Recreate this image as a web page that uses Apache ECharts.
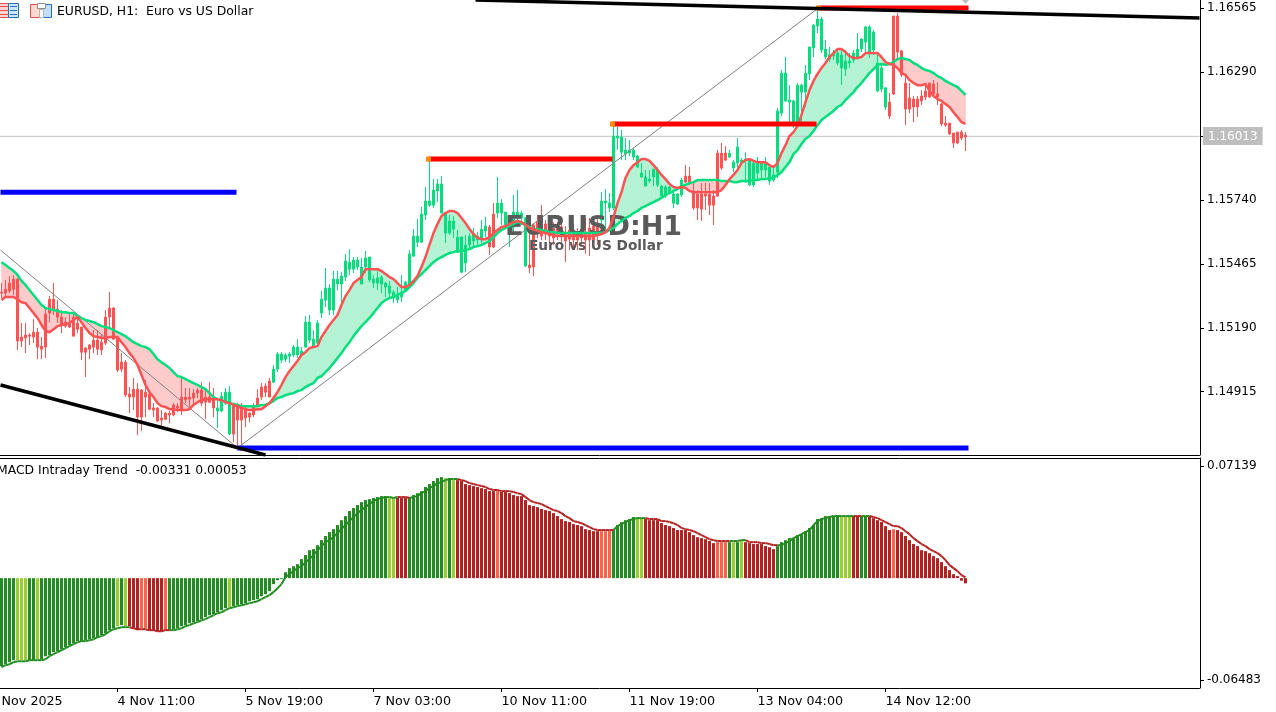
<!DOCTYPE html>
<html><head><meta charset="utf-8">
<style>html,body{margin:0;padding:0;background:#fff;overflow:hidden}#c{width:1276px;height:712px}</style>
<script src="https://cdn.jsdelivr.net/npm/echarts@6/dist/echarts.min.js"></script>
</head><body><div id="c"></div>
<script>
// Prices are stored in points: 15343 means 1.15343. One bar per hour, oldest first.
const bodyTop=[15343,15356,15382,15399,15399,15150,15159,15159,15171,15171,
15111,15249,15313,15313,15270,15236,15214,15210,15236,15210,
15193,15103,15116,15137,15137,15128,15236,15275,15275,15146,
15042,15042,14905,14926,14926,14922,14913,14905,14845,14845,
14802,14823,14823,14858,14853,14892,14892,14892,14909,14922,
14922,14892,14892,14883,14845,14896,14913,14913,14853,14849,
14858,14840,14823,14853,14888,14935,14939,14961,15012,15077,
15077,15073,15077,15107,15107,15090,15214,15214,15141,15210,
15313,15361,15361,15399,15399,15412,15477,15472,15481,15481,
15451,15490,15494,15399,15404,15408,15382,15369,15343,15335,
15343,15386,15507,15584,15584,15679,15735,15735,15782,15808,
15808,15683,15649,15649,15580,15580,15546,15584,15597,15584,
15614,15627,15623,15679,15726,15726,15687,15640,15687,15687,
15683,15662,15460,15632,15644,15627,15636,15627,15619,15632,
15623,15601,15610,15606,15601,15610,15601,15619,15627,15636,
15735,15735,15726,16014,16014,16010,15954,15954,15954,15928,
15855,15838,15829,15872,15872,15799,15795,15795,15765,15765,
15825,15842,15842,15778,15765,15765,15765,15765,15756,15941,
15941,15941,15941,15902,15967,15911,15915,15911,15898,15898,
15898,15898,15881,15847,16122,16285,16285,16169,16165,16233,
16233,16285,16397,16491,16517,16517,16388,16363,16371,16371,
16363,16337,16337,16371,16388,16431,16483,16483,16461,16328,
16307,16221,16160,16530,16530,16380,16242,16178,16173,16173,
16186,16208,16242,16238,16195,16152,16070,16070,16027,16031,16031,16018];
const bodyBottom=[15339,15339,15348,15356,15133,15133,15146,15154,15150,15107,
15098,15107,15253,15270,15236,15202,15197,15193,15154,15184,
15085,15085,15098,15107,15098,15094,15124,15236,15141,15008,
15012,14901,14892,14892,14806,14806,14892,14840,14836,14789,
14793,14797,14815,14815,14845,14836,14879,14883,14888,14909,
14866,14870,14870,14845,14832,14832,14866,14733,14733,14793,
14793,14802,14806,14815,14853,14892,14913,14892,14956,15012,
15051,15055,15068,15073,15073,15073,15107,15137,15107,15124,
15253,15309,15266,15266,15378,15378,15408,15442,15442,15451,
15378,15451,15395,15382,15382,15378,15365,15339,15318,15309,
15322,15352,15378,15498,15558,15558,15675,15717,15717,15778,
15683,15597,15597,15614,15515,15429,15468,15546,15563,15567,
15567,15606,15537,15537,15683,15683,15632,15619,15623,15662,
15662,15455,15447,15451,15601,15584,15593,15584,15576,15601,
15584,15563,15571,15567,15567,15576,15567,15567,15567,15589,
15653,15726,15705,15705,16006,15945,15937,15941,15924,15881,
15838,15799,15821,15838,15804,15756,15756,15773,15726,15722,
15761,15816,15812,15705,15705,15700,15756,15717,15717,15756,
15877,15911,15924,15877,15898,15902,15907,15804,15804,15855,
15868,15868,15821,15825,15859,16113,16165,16160,16066,16070,
16203,16203,16281,16393,16487,16384,16354,16345,16358,16328,
16307,16302,16328,16341,16354,16388,16418,16375,16384,16208,
16216,16139,16100,16195,16375,16277,16130,16130,16139,16139,
16165,16182,16182,16195,16182,16066,16061,16023,15984,15984,16006,16010];
const high=[15382,15395,15412,15416,15404,15210,15210,15167,15227,15189,
15150,15275,15326,15382,15309,15266,15236,15253,15253,15227,
15193,15107,15120,15180,15180,15163,15266,15343,15279,15150,
15081,15051,14935,14974,14952,14926,14965,14913,14866,14849,
14836,14827,14832,14866,14866,14974,14931,14931,14926,14931,
14956,14931,14956,14931,14879,14913,14931,14939,14866,14866,
14866,14858,14827,14866,14926,14952,14952,14974,15030,15085,
15085,15081,15085,15116,15141,15107,15240,15245,15180,15223,
15348,15447,15378,15434,15434,15429,15507,15528,15494,15494,
15490,15520,15494,15416,15434,15416,15386,15391,15352,15365,
15416,15391,15524,15614,15657,15709,15795,15911,15829,15829,
15842,15683,15675,15670,15610,15584,15589,15597,15619,15601,
15653,15666,15632,15726,15838,15743,15687,15666,15761,15782,
15692,15666,15619,15640,15675,15717,15653,15644,15644,15644,
15662,15627,15627,15636,15619,15653,15662,15662,15662,15662,
15773,15786,15769,16066,16053,16040,16006,15997,15963,15933,
15898,15868,15868,15872,15881,15804,15804,15799,15782,15769,
15834,15889,15881,15812,15782,15812,15812,15812,15782,15954,
15984,15971,15954,15911,16006,15920,15945,15915,15902,15924,
15902,15924,15881,15881,16135,16298,16354,16233,16169,16242,
16238,16319,16397,16496,16565,16526,16427,16397,16384,16388,
16393,16384,16371,16384,16457,16436,16487,16491,16470,16371,
16319,16225,16199,16530,16543,16384,16277,16242,16186,16186,
16212,16242,16242,16255,16246,16156,16100,16070,16027,16031,16040,16031];
const low=[15318,15322,15339,15331,15094,15107,15081,15116,15124,15055,
15055,15060,15214,15245,15210,15167,15189,15189,15154,15167,
15051,14978,15055,15081,15073,15073,15116,15189,15137,15000,
15000,14892,14823,14836,14729,14746,14806,14836,14806,14784,
14763,14793,14780,14810,14827,14815,14866,14849,14858,14888,
14853,14797,14866,14806,14759,14827,14858,14729,14698,14677,
14685,14763,14784,14806,14849,14879,14892,14892,14952,15000,
15038,15042,15038,15064,15060,15064,15103,15124,15103,15107,
15232,15279,15245,15245,15352,15296,15391,15416,15425,15438,
15378,15425,15386,15361,15352,15339,15322,15322,15296,15296,
15300,15343,15374,15494,15537,15558,15653,15709,15705,15730,
15683,15554,15589,15576,15511,15425,15429,15528,15537,15546,
15554,15580,15503,15533,15662,15632,15623,15537,15597,15623,
15632,15451,15425,15412,15576,15567,15567,15554,15546,15567,
15537,15472,15524,15528,15524,15541,15507,15498,15541,15546,
15632,15606,15687,15696,15954,15911,15911,15928,15911,15877,
15834,15799,15812,15799,15795,15748,15748,15769,15705,15717,
15752,15812,15804,15696,15653,15649,15696,15675,15632,15752,
15868,15907,15920,15859,15868,15898,15812,15799,15795,15829,
15834,15838,15804,15816,15834,16100,16160,16074,16049,16066,
16066,16139,16255,16354,16457,16371,16345,16332,16341,16319,
16234,16272,16307,16328,16354,16375,16371,16350,16363,16203,
16203,16126,16087,16191,16341,16268,16061,16113,16074,16096,
16148,16169,16178,16182,16148,16057,16053,16019,15963,15980,15997,15950];
// Bar trend: [first bar, last bar] of every rising stretch; all other bars are falling.
const risingRuns=[[54,57],[68,121],[124,131],[150,170],[182,221]];
// Fast and slow averages that bound the cloud.
const fastMA=[15309,15322,15322,15322,15313,15300,15296,15275,15253,15232,
15202,15176,15171,15184,15197,15202,15206,15210,15223,15236,
15214,15189,15167,15154,15150,15146,15146,15150,15150,15150,
15128,15107,15081,15060,15030,14987,14944,14913,14892,14866,
14853,14849,14840,14840,14836,14836,14836,14840,14858,14870,
14879,14883,14883,14883,14883,14879,14870,14866,14858,14853,
14845,14840,14836,14836,14840,14840,14853,14866,14888,14913,
14944,14978,15004,15025,15047,15073,15085,15103,15107,15111,
15150,15176,15202,15223,15245,15288,15326,15352,15382,15395,
15408,15442,15442,15442,15442,15434,15421,15408,15399,15382,
15365,15365,15374,15391,15412,15451,15494,15546,15597,15636,
15670,15683,15692,15692,15683,15662,15640,15614,15593,15576,
15571,15571,15580,15597,15610,15623,15627,15636,15644,15649,
15644,15632,15619,15614,15606,15601,15597,15593,15589,15584,
15584,15584,15584,15584,15584,15584,15584,15584,15584,15589,
15593,15601,15619,15666,15726,15773,15834,15868,15889,15902,
15915,15915,15907,15889,15868,15847,15829,15808,15795,15791,
15795,15791,15778,15773,15773,15773,15773,15773,15773,15773,
15782,15804,15829,15847,15868,15898,15911,15915,15907,15902,
15902,15902,15889,15881,15898,15941,15975,16014,16031,16057,
16105,16160,16212,16251,16281,16307,16328,16354,16371,16388,
16388,16375,16358,16350,16350,16354,16371,16371,16371,16371,
16354,16332,16324,16320,16307,16285,16277,16255,16242,16233,
16233,16238,16208,16186,16173,16165,16152,16139,16117,16096,16074,16066];
const slowMA=[15472,15460,15447,15434,15417,15391,15374,15352,15331,15309,
15288,15275,15270,15266,15262,15257,15257,15253,15253,15240,
15232,15223,15219,15214,15206,15197,15193,15189,15180,15171,
15163,15154,15141,15128,15120,15111,15107,15098,15077,15055,
15042,15030,15017,14999,14982,14978,14969,14961,14952,14944,
14935,14926,14909,14892,14883,14875,14875,14866,14862,14858,
14853,14853,14853,14853,14853,14858,14858,14866,14875,14888,
14892,14900,14905,14909,14918,14922,14935,14944,14952,14974,
14982,14999,15017,15038,15060,15081,15107,15128,15154,15176,
15197,15214,15232,15253,15275,15296,15309,15318,15322,15331,
15339,15348,15365,15382,15404,15421,15438,15455,15472,15485,
15494,15503,15511,15515,15520,15520,15524,15528,15537,15541,
15546,15554,15563,15580,15597,15610,15619,15627,15636,15644,
15640,15632,15623,15614,15614,15610,15606,15601,15601,15597,
15597,15597,15597,15597,15597,15597,15597,15597,15597,15597,
15597,15601,15610,15619,15636,15649,15662,15670,15683,15692,
15705,15713,15722,15730,15739,15748,15761,15769,15778,15786,
15799,15804,15812,15816,15825,15825,15825,15825,15825,15825,
15821,15821,15821,15816,15816,15821,15821,15821,15825,15825,
15829,15829,15834,15834,15847,15859,15881,15902,15937,15954,
15980,16001,16014,16036,16061,16083,16096,16109,16122,16139,
16148,16169,16186,16203,16225,16242,16264,16285,16302,16320,
16324,16320,16324,16332,16345,16350,16345,16341,16328,16320,
16307,16298,16294,16285,16272,16264,16251,16242,16233,16225,16208,16191];
// MACD histogram and signal, in units of 0.0001.
const histogram=[-561,-548,-535,-522,-522,-522,-522,-522,-522,-516,-516,
-497,-491,-471,-465,-452,-440,-427,-414,-401,-401,
-395,-389,-382,-376,-363,-350,-331,-319,-306,-299,
-306,-306,-319,-331,-319,-319,-331,-331,-338,-338,
-331,-331,-325,-319,-306,-299,-287,-280,-274,-261,
-248,-236,-229,-217,-204,-191,-185,-178,-172,-166,
-159,-147,-140,-134,-115,-102,-83,-38,-13,-6,
38,64,76,89,121,147,178,185,210,242,268,293,
312,338,369,395,427,446,465,484,497,503,
510,516,522,522,510,510,510,510,510,516,
529,541,554,580,599,618,637,643,637,637,
624,624,618,599,592,586,580,573,567,554,
554,554,548,548,541,529,522,522,497,465,
459,452,440,433,427,414,395,376,363,357,
344,338,331,312,306,299,299,299,299,299,
306,338,357,369,376,389,389,382,376,369,369,369,
350,338,331,319,306,306,306,293,274,261,
255,248,236,223,229,229,229,229,229,229,
236,229,223,217,217,217,204,197,185,204,
229,242,255,255,274,280,299,319,338,376,
382,395,395,395,401,389,389,395,395,395,
395,395,395,382,369,357,331,306,312,306,
293,268,242,217,204,178,172,159,140,127,
102,76,51,25,13,-16,-33];
const signal=[-567,-554,-548,-535,-529,-529,-529,-522,-522,-522,-522,
-516,-497,-484,-471,-459,-446,-433,-420,-408,-401,
-401,-395,-389,-376,-369,-357,-338,-325,-319,-312,
-312,-312,-319,-325,-325,-325,-331,-331,-338,-338,
-331,-331,-331,-325,-319,-306,-299,-287,-280,-268,
-261,-248,-236,-223,-217,-204,-191,-185,-178,-172,
-166,-159,-153,-147,-134,-121,-108,-89,-64,-38,
6,25,45,64,76,102,121,147,178,204,229,242,
261,287,312,338,363,389,414,433,452,471,
491,503,510,516,516,510,516,516,516,510,
516,522,541,554,573,586,605,611,624,631,
631,631,624,618,605,599,592,586,580,567,
561,561,554,554,554,548,541,535,516,497,
484,478,471,459,446,433,427,414,395,382,
363,357,350,338,325,312,306,306,306,306,
306,331,344,357,369,376,382,382,382,376,376,376,
363,363,357,350,338,319,312,306,299,287,
274,261,248,242,236,236,236,236,236,236,
242,242,229,229,229,223,223,217,210,210,
210,223,236,255,268,280,293,306,338,363,
376,382,389,395,395,395,395,395,395,395,
395,395,395,389,382,369,357,344,331,331,
319,299,280,255,236,217,204,185,172,159,
140,115,83,64,45,19,5];
// Histogram state: [first bar, last bar, state]; bars outside a run are strong green.
const histRuns=[[4,6,'y'],[9,9,'y'],[29,29,'y'],[31,31,'y'],[32,34,'r'],[35,36,'o'],[37,40,'r'],[41,41,'o'],
[57,57,'y'],[97,98,'y'],[99,101,'r'],[111,111,'y'],[113,113,'y'],[114,123,'r'],[124,124,'o'],[125,149,'r'],
[150,152,'o'],[159,160,'y'],[161,178,'r'],[179,181,'o'],[183,183,'y'],[185,185,'y'],[186,193,'r'],
[210,212,'y'],[213,214,'r'],[217,222,'r'],[223,223,'o'],[224,241,'r']];
// Axis ticks and labels.
const timeLabels=['3 Nov 2025','4 Nov 11:00','5 Nov 19:00','7 Nov 03:00','10 Nov 11:00','11 Nov 19:00','13 Nov 04:00','14 Nov 12:00'];
const priceTicks=[1.16565,1.16290,1.15740,1.15465,1.15190,1.14915];
const lastPrice=1.16013;
const macdTicks=[0.07139,-0.06483];
// Chart objects, as [bar number, price in points].
const blackLines=[[[-0.25,14944],[66,14643]],[[118.5,16599],[299.5,16522]]];
const zigzag=[[-0.25,15524],[59,14673],[204.25,16565]];
const blueLevels=[[[-0.25,15773],[58.75,15773]],[[59,14673],[241.75,14673]]];
const redLevels=[[[106.75,15915],[152.75,15915]],[[152.75,16066],[203.75,16066]],[[204.25,16565],[241.75,16565]]];
const levelStarts=[[106.75,15915],[152.75,16066],[204.25,16565]];

const price=v=>1+v/1e5, LEAD=3, COUNT=303;
const GREEN='#00DE7E',RED='#FF5252',MINT='#B3F3D4',PINK='#FFCACA';
const HIST={g:'#228B22',y:'#9ACD32',r:'#B22222',o:'#FF6347'};
const rising=i=>risingRuns.some(r=>i>=r[0]&&i<=r[1]);
const histState=i=>{const r=histRuns.find(r=>i>=r[0]&&i<=r[1]);return r?r[2]:'g';};
const cats=[];for(let j=0;j<COUNT;j++){cats.push(j%32===0&&timeLabels[j/32]?timeLabels[j/32]:'');}

const candles=bodyTop.map((t,i)=>{const c=rising(i)?GREEN:RED;return {value:[i+LEAD,price(bodyBottom[i]),price(t),price(low[i]),price(high[i])],itemStyle:{color:c,color0:c,borderColor:c,borderColor0:c,borderWidth:1}};});
const cloud=[];for(let i=0;i<fastMA.length-1;i++){cloud.push([i+LEAD,price(fastMA[i]),price(slowMA[i]),price(fastMA[i+1]),price(slowMA[i+1])]);}
const sigSeg=[];for(let i=0;i<signal.length-1;i++){sigSeg.push([i+LEAD,signal[i]/1e4,signal[i+1]/1e4,'gy'.includes(histState(i))?0:1]);}
const lineData=a=>a.map((v,i)=>[i+LEAD,price(v)]);
const pts=a=>a.map(p=>[p[0],price(p[1])]);
const overlay=(data,color,width,z)=>({type:'line',xAxisIndex:1,yAxisIndex:0,data:pts(data),symbol:'none',silent:true,z,lineStyle:{color,width}});
const none={show:false};
const vx=(grid,extra)=>Object.assign({type:'value',gridIndex:grid,min:-3.5,max:299.5,axisLabel:none,axisTick:none,splitLine:none},extra);
const fontFamily='"DejaVu Sans"';

const T=(text,x,y,opt)=>({type:'text',x,y,z:opt.z||10,style:Object.assign({text,fill:'#000',font:'12.4px "DejaVu Sans"',textVerticalAlign:'middle'},opt.style)});
const R=(x,y,w,h,fill,stroke)=>({type:'rect',z:10,shape:{x,y,width:w,height:h},style:{fill,stroke:stroke||null,lineWidth:1}});

const option={
 animation:false,backgroundColor:'#fff',
 grid:[{left:-12.5,top:0,width:1212,height:455,outerBoundsMode:'none',containLabel:false},{left:-12.5,top:458,width:1212,height:230,outerBoundsMode:'none',containLabel:false}],
 xAxis:[
  {type:'category',gridIndex:0,data:cats,axisLine:{onZero:false,lineStyle:{color:'#000',width:1}},axisTick:none,axisLabel:none,splitLine:none},
  vx(0,{show:false}),
  {type:'category',gridIndex:1,data:cats,position:'bottom',
   axisLine:{onZero:false,lineStyle:{color:'#000',width:1}},
   axisTick:{show:true,alignWithLabel:true,length:4,interval:(i,v)=>v!=='',lineStyle:{color:'#000'}},
   axisLabel:{interval:(i,v)=>v!=='',align:'left',margin:7,color:'#000',fontFamily,fontSize:12.7,hideOverlap:false,showMinLabel:true},splitLine:none},
  vx(1,{position:'top',axisLine:{show:true,onZero:false,lineStyle:{color:'#000',width:1}}})
 ],
 yAxis:[
  {type:'value',gridIndex:0,position:'right',offset:0.5,min:1.14643,max:1.16599,scale:true,splitLine:none,
   axisLine:{show:true,onZero:false,lineStyle:{color:'#000'}},
   axisTick:{show:true,length:4,customValues:priceTicks.concat([lastPrice]),lineStyle:{color:'#000'}},
   axisLabel:{customValues:priceTicks,margin:7,padding:[3,0,0,0],color:'#000',fontFamily,fontSize:12,formatter:v=>v.toFixed(5)}},
  {type:'value',gridIndex:1,position:'right',offset:0.5,min:-0.06992,max:0.07648,splitLine:none,
   axisLine:{show:true,onZero:false,lineStyle:{color:'#000'}},
   axisTick:{show:true,length:4,customValues:macdTicks,lineStyle:{color:'#000'}},
   axisLabel:{customValues:macdTicks,margin:7,padding:[4,0,0,0],color:'#000',fontFamily,fontSize:12,formatter:v=>v.toFixed(5)}}
 ],
 series:[
  {type:'line',xAxisIndex:1,yAxisIndex:0,data:[[-3.5,lastPrice],[299.5,lastPrice]],symbol:'none',silent:true,z:1,lineStyle:{color:'#C0C0C0',width:1}},
  {type:'custom',xAxisIndex:0,yAxisIndex:0,data:cloud,z:1,silent:true,encode:{x:0,y:[1,2]},
   renderItem:(p,api)=>{const x=api.value(0),a=api.value(1),b=api.value(2),c=api.value(3),d=api.value(4);
    const col=a+c>=b+d?MINT:PINK;
    return {type:'polygon',shape:{points:[api.coord([x,a]),api.coord([x+1,c]),api.coord([x+1,d]),api.coord([x,b])]},style:{fill:col,stroke:col,lineWidth:0.6}};}},
  {type:'candlestick',xAxisIndex:0,yAxisIndex:0,data:candles,barWidth:2,encode:{x:0,y:[1,2,3,4]},z:2,silent:true},
  overlay(zigzag,'#808080',1,3),
  {type:'line',xAxisIndex:0,yAxisIndex:0,data:lineData(slowMA),symbol:'none',silent:true,z:5,lineStyle:{color:GREEN,width:2.5}},
  {type:'line',xAxisIndex:0,yAxisIndex:0,data:lineData(fastMA),symbol:'none',silent:true,z:5,lineStyle:{color:RED,width:2.5}},
  ...blueLevels.map(d=>overlay(d,'#0000FF',5,6)),
  ...redLevels.map(d=>overlay(d,'#FF0000',5,6)),
  {type:'scatter',xAxisIndex:1,yAxisIndex:0,data:pts(levelStarts),symbol:'rect',symbolSize:5,silent:true,z:7,itemStyle:{color:'#FF8C00',opacity:1}},
  ...blackLines.map(d=>overlay(d,'#000',3.5,8)),
  {type:'bar',xAxisIndex:2,yAxisIndex:1,barWidth:3,silent:true,z:2,encode:{x:0,y:1},
   data:histogram.map((v,i)=>({value:[i+LEAD,v/1e4],itemStyle:{color:HIST[histState(i)]}}))},
  {type:'custom',xAxisIndex:2,yAxisIndex:1,data:sigSeg,z:3,silent:true,encode:{x:0,y:[1,2]},
   renderItem:(p,api)=>{const x=api.value(0);
    return {type:'line',shape:{x1:api.coord([x,api.value(1)])[0],y1:api.coord([x,api.value(1)])[1],x2:api.coord([x+1,api.value(2)])[0],y2:api.coord([x+1,api.value(2)])[1]},
     style:{stroke:api.value(3)?'#B22222':'#228B22',lineWidth:2}};}}
 ],
 graphic:[
  T('EURUSD:H1',505,228,{z:4,style:{fill:'#5A5A5A',font:'bold 27px "DejaVu Sans"'}}),
  T('Euro vs US Dollar',529,246,{z:4,style:{fill:'#5A5A5A',font:'bold 13.7px "DejaVu Sans"'}}),
  T('EURUSD, H1:  Euro vs US Dollar',57,12,{style:{}}),
  T('MACD Intraday Trend  -0.00331 0.00053',-3,471,{style:{}}),
  {type:'text',x:1203,y:127,z:10,style:{text:lastPrice.toFixed(5),fill:'#fff',font:'12px "DejaVu Sans"',backgroundColor:'#BEBEBE',padding:[3,5,2,5],lineHeight:13}},
  R(-2.5,3.5,11,14,'#FBD4D0','#E05050'),R(-2,6,10,1,'#E05050'),R(-2,10,10,1,'#E05050'),R(-2,14,10,1,'#E05050'),
  R(8.5,3.5,10,14,'#CFE6F8','#2070C0'),R(10,6,7,1,'#2070C0'),R(10,10,7,1,'#2070C0'),R(10,14,7,1,'#2070C0'),
  R(30.5,4.5,9,13,'#FFD8D0','#E05050'),R(43.5,4.5,8,13,'#BFE0F8','#2070C0'),R(39.5,9.5,4,8,'#fff','#B8B8B8'),R(37.5,3.5,8,5,'#fff','#909090'),
  {type:'polygon',z:10,shape:{points:[[962,0],[969,0],[965.5,4]]},style:{fill:'#C0C0C0'}}
 ]
};
const chart=echarts.init(document.getElementById('c'),null,{renderer:'canvas',width:1276,height:712});
chart.setOption(option);
</script></body></html>
